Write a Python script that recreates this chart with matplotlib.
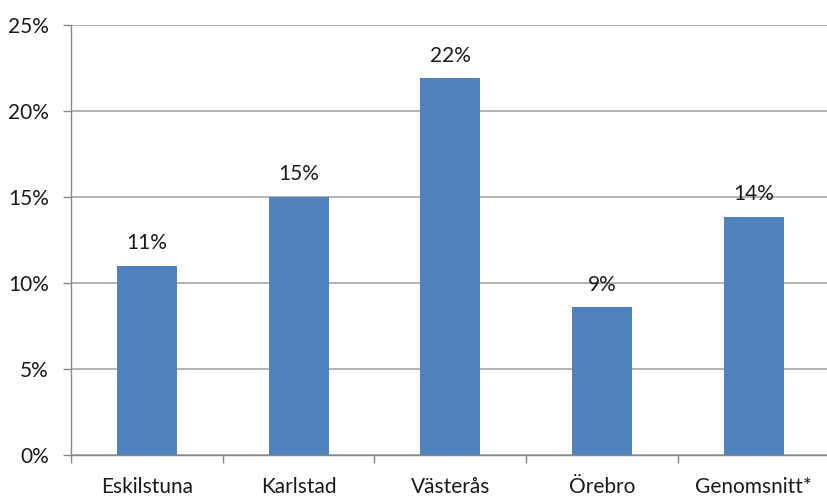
import numpy as np
import matplotlib.pyplot as plt
from matplotlib.ticker import FixedLocator

# Data
categories = ['Eskilstuna', 'Karlstad', 'Västerås', 'Örebro', 'Genomsnitt*']
values = [11.0, 15.0, 21.9, 8.6, 13.85]
labels = ['11%', '15%', '22%', '9%', '14%']

W, H = 827, 496
fig = plt.figure(figsize=(W / 100, H / 100), dpi=100)
plt.rcParams['font.family'] = ['Lato', 'DejaVu Sans']

left, right = 71, 829.5
top, bottom = 25, 455
ax = fig.add_axes([left / W, 1 - bottom / H, (right - left) / W, (bottom - top) / H])

x = np.arange(len(categories))
ax.bar(x, values, width=0.395, color='#4F81BD', zorder=3)

for xi, v, lab in zip(x, values, labels):
    ax.annotate(lab, (xi, v), xytext=(0, 9), textcoords='offset points',
                ha='center', va='bottom', fontsize=15, color='#1a1a1a')

ax.set_xlim(-0.5, len(categories) - 0.5)
ax.set_ylim(0, 25)
ax.set_yticks(np.arange(0, 26, 5))
ax.set_yticklabels([f'{t}%' for t in range(0, 26, 5)])
ax.yaxis.grid(True, color='#A6A6A6', linewidth=1.2, zorder=0)

ax.set_xticks(x)
ax.set_xticklabels(categories)
ax.xaxis.set_minor_locator(FixedLocator(np.arange(-0.5, len(categories), 1.0)))
ax.tick_params(axis='x', which='major', length=0, pad=16, labelsize=15, labelcolor='#1a1a1a')
ax.tick_params(axis='x', which='minor', length=6, color='#888888', width=1)
ax.tick_params(axis='y', length=6, color='#888888', width=1, pad=10, labelsize=15, labelcolor='#1a1a1a')

for s in ['top', 'right']:
    ax.spines[s].set_visible(False)
for s in ['left', 'bottom']:
    ax.spines[s].set_color('#888888')
    ax.spines[s].set_linewidth(1)

fig.savefig('out.png', dpi=100)
